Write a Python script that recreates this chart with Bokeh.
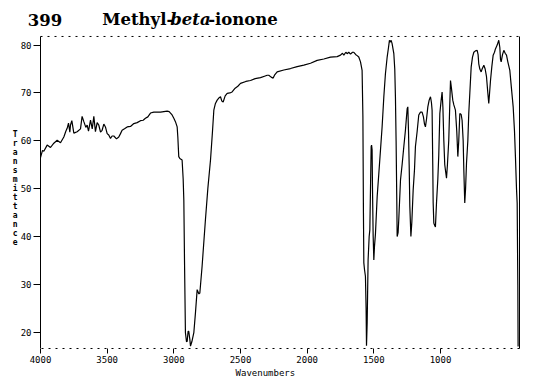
from bokeh.plotting import figure
from bokeh.models import Range1d, LinearAxis, FixedTicker, Label
from bokeh.embed import file_html
from bokeh.resources import INLINE

# IR spectrum of Methyl-beta-ionone
wavenumber = [
    4000, 3985, 3975, 3950, 3925, 3900, 3875, 3850, 3825, 3810, 3800, 3790, 3780, 3775,
    3765, 3750, 3725, 3700, 3688, 3675, 3660, 3650, 3640, 3625, 3612, 3600, 3588, 3575,
    3563, 3550, 3538, 3525, 3513, 3500, 3488, 3475, 3463, 3450, 3430, 3413, 3400, 3388,
    3370, 3350, 3325, 3300, 3275, 3250, 3230, 3213, 3195, 3175, 3150, 3125, 3100, 3075,
    3050, 3035, 3025, 3013, 3000, 2988, 2975, 2970, 2963, 2955, 2938, 2930, 2925, 2920,
    2913, 2905, 2900, 2893, 2888, 2880, 2875, 2865, 2850, 2838, 2825, 2812, 2805, 2788,
    2763, 2745, 2725, 2710, 2700, 2688, 2675, 2660, 2650, 2640, 2630, 2615, 2600, 2580,
    2563, 2540, 2520, 2500, 2460, 2425, 2390, 2350, 2320, 2300, 2288, 2270, 2255, 2245,
    2225, 2175, 2125, 2075, 2025, 1975, 1925, 1875, 1825, 1775, 1750, 1735, 1725, 1710,
    1700, 1688, 1675, 1660, 1650, 1635, 1625, 1613, 1600, 1588, 1582, 1578, 1575, 1570,
    1563, 1558, 1555, 1550, 1547, 1543, 1535, 1530, 1525, 1520, 1517, 1513, 1510, 1505,
    1500, 1495, 1488, 1475, 1463, 1450, 1438, 1425, 1413, 1400, 1390, 1383, 1378, 1370,
    1363, 1350, 1343, 1338, 1333, 1328, 1325, 1318, 1313, 1300, 1288, 1275, 1263, 1255,
    1250, 1245, 1240, 1235, 1230, 1222, 1215, 1205, 1195, 1188, 1175, 1163, 1150, 1138,
    1128, 1120, 1113, 1105, 1095, 1085, 1075, 1068, 1063, 1058, 1055, 1050, 1045, 1038,
    1030, 1020, 1013, 1005, 995, 988, 982, 975, 968, 963, 955, 948, 938, 932,
    925, 918, 908, 900, 888, 878, 870, 863, 855, 845, 838, 830, 825, 818,
    812, 805, 795, 788, 780, 770, 760, 750, 738, 725, 718, 713, 705, 695,
    688, 675, 665, 655, 645, 638, 632, 625, 615, 605, 595, 588, 575, 563,
    555, 550, 545, 535, 525, 515, 505, 495, 480, 468, 455, 445, 438, 430,
    425, 420, 418,
]
transmittance = [
    56.5, 58.0, 57.8, 59.1, 58.6, 59.5, 60.1, 59.6, 60.8, 62.0, 62.6, 63.7, 61.8, 63.3,
    64.2, 61.6, 61.9, 62.5, 65.1, 64.0, 62.8, 63.3, 62.0, 64.3, 62.5, 65.1, 61.9, 63.8,
    63.3, 61.8, 62.2, 63.5, 62.9, 61.5, 61.2, 60.5, 61.0, 61.0, 60.4, 60.8, 61.5, 62.2,
    62.5, 62.9, 63.0, 63.6, 63.8, 64.2, 64.3, 64.7, 65.0, 65.8, 66.0, 66.0, 66.0, 66.1,
    66.2, 66.1, 65.8, 65.4, 64.7, 64.0, 62.9, 60.8, 56.7, 56.3, 56.0, 52.0, 47.6, 35.1,
    19.9, 18.0, 18.1, 20.2, 20.2, 18.5, 17.1, 18.0, 19.9, 24.0, 28.9, 28.0, 28.2, 33.8,
    43.5, 50.0, 56.0, 62.0, 66.4, 67.8, 68.5, 69.0, 69.2, 68.3, 68.1, 69.4, 69.9, 70.0,
    70.2, 71.0, 71.4, 72.0, 72.4, 72.6, 73.0, 73.2, 73.5, 73.7, 73.7, 73.3, 73.1, 73.7,
    74.4, 74.8, 75.1, 75.5, 75.8, 76.2, 76.8, 77.1, 77.5, 77.6, 77.9, 78.3, 77.9, 78.5,
    78.2, 78.5, 78.1, 78.5, 78.5, 78.0, 77.8, 77.5, 76.5, 74.7, 65.0, 45.0, 34.5, 33.1,
    31.7, 25.0, 17.2, 22.0, 27.5, 35.1, 40.0, 41.4, 50.0, 58.8, 59.1, 58.1, 50.0, 40.0,
    35.1, 38.0, 40.5, 48.3, 53.0, 58.1, 62.9, 69.2, 74.0, 77.5, 79.5, 81.0, 80.6, 81.0,
    80.3, 78.2, 75.0, 69.2, 60.0, 48.0, 40.0, 40.8, 43.5, 51.8, 55.0, 58.8, 62.2, 65.0,
    66.7, 67.1, 62.0, 55.0, 46.3, 40.0, 43.0, 49.7, 54.0, 58.8, 62.0, 65.4, 66.0, 66.0,
    65.0, 63.5, 62.9, 64.5, 67.1, 68.5, 69.2, 68.0, 66.4, 55.0, 47.0, 42.8, 42.4, 42.0,
    47.0, 52.0, 57.0, 65.7, 68.5, 70.2, 67.0, 60.0, 55.0, 53.9, 52.2, 55.0, 60.1, 66.0,
    72.6, 71.0, 68.5, 67.5, 66.4, 62.0, 56.7, 60.0, 65.7, 65.5, 64.3, 60.0, 53.9, 47.0,
    50.0, 55.3, 60.0, 65.7, 70.0, 75.4, 77.5, 78.5, 78.8, 78.9, 78.0, 76.1, 75.0, 74.4,
    75.0, 75.8, 75.0, 73.4, 70.0, 67.8, 70.0, 72.6, 75.5, 77.9, 78.5, 79.2, 80.0, 81.0,
    79.5, 77.0, 76.5, 78.0, 78.9, 78.3, 77.9, 76.5, 74.7, 71.0, 67.1, 62.0, 56.7, 50.0,
    47.0, 30.0, 17.0,
]
x_ticks = [4000, 3500, 3000, 2500, 2000, 1500, 1000]
y_ticks = [20, 30, 40, 50, 60, 70, 80]
title_parts = [("399", "bold"), ("Methyl-", "bold"), ("beta", "bold italic"), ("-ionone", "bold")]

# plot window (data) and the extra room kept inside the frame for the labels
X_START, X_END = 4000, 407.5
Y_LOW, Y_HIGH = 16.6, 81.8
X_PAD_LEFT = 300        # frame extends left of 4000 (room for tick labels and "399")
Y_TOP = 88.9            # frame extends above the plot box (room for the title)

tick_font = "DejaVu Sans Mono"
title_font = "DejaVu Serif"

p = figure(width=546, height=380, output_backend="svg", toolbar_location=None,
           x_range=Range1d(X_START + X_PAD_LEFT, X_END), y_range=Range1d(Y_LOW, Y_TOP),
           x_axis_type=None, y_axis_type=None,
           min_border_left=0, min_border_right=27, min_border_top=2, min_border_bottom=31)
p.outline_line_color = None
p.background_fill_color = "white"
p.border_fill_color = "white"

p.line(wavenumber, transmittance, line_color="black", line_width=1.2)

# dashed top edge of the plot box
p.line([X_START, X_END], [Y_HIGH, Y_HIGH], line_color="black", line_width=1, line_dash="2 5")

xaxis = LinearAxis(ticker=FixedTicker(ticks=x_ticks), bounds=(X_END, X_START),
                   major_tick_in=0, major_tick_out=5,
                   minor_tick_line_color=None, axis_line_dash="2 5", axis_line_color="black",
                   major_tick_line_color="black",
                   major_label_text_font=tick_font, major_label_text_font_size="9px",
                   major_label_text_color="black", major_label_standoff=2,
                   axis_label="\u00a0\u00a0Wavenumbers", axis_label_text_font=tick_font,
                   axis_label_text_font_size="9px", axis_label_text_font_style="normal",
                   axis_label_text_color="black", axis_label_standoff=2)
p.add_layout(xaxis, "below")

yaxis = LinearAxis(ticker=FixedTicker(ticks=y_ticks), bounds=(Y_LOW, Y_HIGH),
                   fixed_location=X_START,
                   major_tick_in=0, major_tick_out=7,
                   minor_tick_line_color=None, axis_line_color="black",
                   major_tick_line_color="black",
                   major_label_text_font=tick_font, major_label_text_font_size="9px",
                   major_label_text_color="black", major_label_standoff=2,
                   axis_label="\n".join("Transmittance") + "\n\u00a0",
                   axis_label_text_font=tick_font,
                   axis_label_text_font_size="8px", axis_label_text_font_style="bold",
                   axis_label_text_color="black", axis_label_standoff=0,
                   axis_label_text_line_height=1.0)
try:
    yaxis.axis_label_orientation = "horizontal"
except Exception:
    pass
p.add_layout(yaxis, "left")

right_axis = LinearAxis(ticker=FixedTicker(ticks=[]), bounds=(Y_LOW, Y_HIGH),
                        major_tick_line_color=None,
                        minor_tick_line_color=None, major_label_text_font_size="0px",
                        axis_line_color="black")
p.add_layout(right_axis, "right")

# title, drawn inside the frame above the plot box
title_x = [4095, 3537, 3027, 2742]
title_y = 85.3
for tx, (txt, style) in zip(title_x, title_parts):
    p.add_layout(Label(x=tx, y=title_y, text=txt, text_font=title_font,
                       text_font_style=style, text_font_size="16.5px",
                       text_baseline="alphabetic", text_color="black"))

open("out.html", "w").write(file_html(p, INLINE))
